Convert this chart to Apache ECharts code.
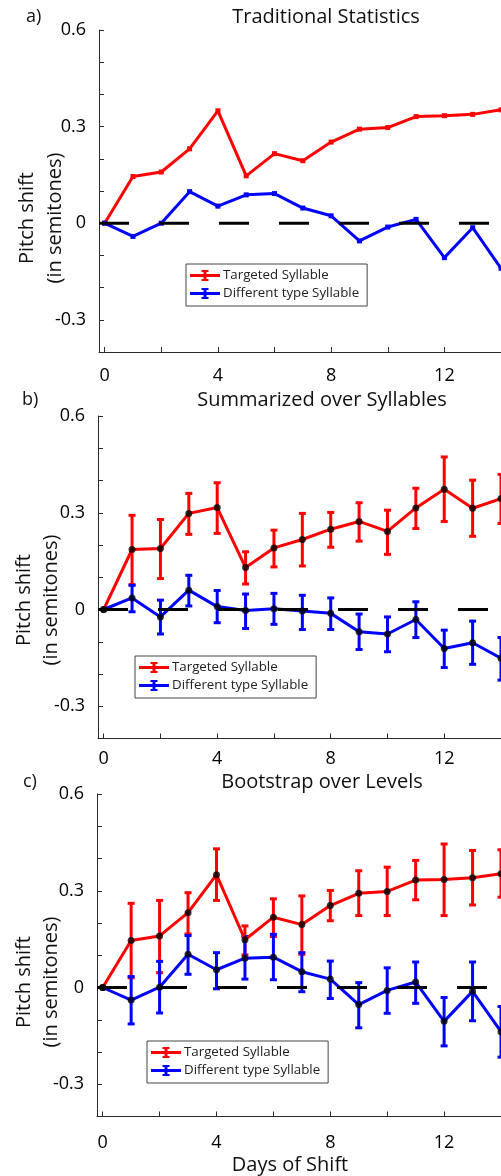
<!DOCTYPE html>
<html>
<head>
<meta charset="utf-8">
<script src="https://cdn.jsdelivr.net/npm/echarts@6/dist/echarts.min.js"></script>
<style>
html,body{margin:0;padding:0;background:#fff;}
#chart{width:501px;height:1176px;}
</style>
</head>
<body>
<div id="chart"></div>
<script>
// ---------------- data ----------------
const days = [0,1,2,3,4,5,6,7,8,9,10,11,12,13,14];
const xTickValues = [0,2,4,6,8,10,12,14];
const xTickLabels = [0,4,8,12];
const yTickValues = [-0.4,-0.3,-0.2,-0.1,0,0.1,0.2,0.3,0.4,0.5,0.6];
const yTickLabels = [-0.3,0,0.3,0.6];
const seriesNames = ['Targeted Syllable','Different type Syllable'];
const panelTitles = ['Traditional Statistics','Summarized over Syllables','Bootstrap over Levels'];
const panelLetters = ['a)','b)','c)'];

// a) Traditional Statistics
const tradTarget = [0,0.145,0.159,0.231,0.349,0.147,0.216,0.194,0.252,0.292,0.297,0.331,0.334,0.338,0.352];
const tradOther  = [0,-0.041,0,0.098,0.053,0.088,0.092,0.047,0.023,-0.055,-0.012,0.012,-0.107,-0.014,-0.140];

// b) Summarized over Syllables
const sumTarget   = [0,0.186,0.189,0.298,0.316,0.130,0.191,0.217,0.249,0.273,0.242,0.315,0.373,0.314,0.344];
const sumTargetHi = [0,0.292,0.279,0.360,0.393,0.179,0.246,0.298,0.301,0.331,0.308,0.376,0.473,0.401,0.419];
const sumTargetLo = [0,0.077,0.096,0.233,0.236,0.079,0.132,0.135,0.193,0.212,0.171,0.251,0.273,0.227,0.267];
const sumOther    = [0,0.036,-0.023,0.060,0.009,-0.003,0.002,-0.005,-0.012,-0.069,-0.076,-0.031,-0.121,-0.103,-0.151];
const sumOtherHi  = [0,0.075,0.029,0.106,0.059,0.048,0.050,0.044,0.036,-0.014,-0.023,0.024,-0.064,-0.036,-0.087];
const sumOtherLo  = [0,-0.007,-0.076,0.011,-0.041,-0.059,-0.046,-0.062,-0.062,-0.124,-0.131,-0.087,-0.180,-0.170,-0.219];

// c) Bootstrap over Levels
const bootTarget   = [0,0.146,0.160,0.232,0.350,0.148,0.218,0.195,0.254,0.292,0.298,0.333,0.335,0.340,0.353];
const bootTargetHi = [0,0.261,0.270,0.294,0.430,0.191,0.275,0.284,0.301,0.362,0.373,0.394,0.445,0.425,0.427];
const bootTargetLo = [0,0.030,0.046,0.166,0.270,0.101,0.158,0.103,0.207,0.223,0.223,0.272,0.223,0.256,0.280];
const bootOther    = [0,-0.039,0.001,0.103,0.055,0.091,0.094,0.049,0.026,-0.053,-0.009,0.017,-0.105,-0.012,-0.137];
const bootOtherHi  = [0,0.034,0.081,0.161,0.108,0.158,0.165,0.108,0.082,0.015,0.061,0.079,-0.031,0.079,-0.059];
const bootOtherLo  = [0,-0.113,-0.079,0.041,-0.004,0.026,0.024,-0.013,-0.034,-0.125,-0.080,-0.049,-0.181,-0.103,-0.216];

const xMin = -0.2, xMax = 14, yMin = -0.4, yMax = 0.6;

// ---------------- layout ----------------
const FONT = 'Open Sans';
const RED = '#ff0000', BLUE = '#0000ff';
const grids = [
  {left: 99, top: 30,  right: 0, height: 322},
  {left: 98, top: 416, right: 0, height: 322.5},
  {left: 97, top: 794, right: 0, height: 322.5}
];
const xLabelMargin = [15, 11.5, 17.5];
const titlePos = [[326,17],[322,400],[322,782]];
const letterPos = [[26,17],[22,400],[23,782]];
const ylab1Pos = [[27.5,218],[24,600],[24,982]];
const ylab2Pos = [[55,218],[51.5,600],[51.5,982]];
const legendPos = [[186,264],[135,656],[147,1041]];

const xAxes = grids.map((g,i)=>({
  type:'value', gridIndex:i, min:xMin, max:xMax,
  axisLine:{show:true,onZero:false,lineStyle:{color:'#2a2a2a',width:1}},
  axisTick:{show:true,inside:true,length:5,lineStyle:{color:'#2a2a2a'},customValues:xTickValues},
  axisLabel:{show:true,customValues:xTickLabels,fontSize:18,color:'#000',fontFamily:FONT,margin:xLabelMargin[i]},
  splitLine:{show:false}
}));
const yAxes = grids.map((g,i)=>({
  type:'value', gridIndex:i, min:yMin, max:yMax,
  axisLine:{show:true,onZero:false,lineStyle:{color:'#2a2a2a',width:1}},
  axisTick:{show:true,inside:true,length:5,lineStyle:{color:'#2a2a2a'},customValues:yTickValues},
  axisLabel:{show:true,customValues:yTickLabels,fontSize:18,color:'#000',fontFamily:FONT,margin:13,
    formatter:v=>String(Math.round(v*10)/10)},
  splitLine:{show:false}
}));

function pairs(ys){ return days.map((d,k)=>[d, ys[k]]); }
function errData(lo,hi){ return days.map((d,k)=>[d, lo[k], hi[k]]).filter(r=>r[1]!==r[2]); }

function errSeries(i, lo, hi, color){
  return {
    type:'custom', xAxisIndex:i, yAxisIndex:i, z:2, silent:true, clip:false,
    data: errData(lo,hi),
    renderItem:(params, api)=>{
      const x = api.value(0);
      const pLo = api.coord([x, api.value(1)]);
      const pHi = api.coord([x, api.value(2)]);
      const w = 3.5, st = {stroke:color, lineWidth:3};
      return {type:'group', children:[
        {type:'line', shape:{x1:pLo[0],y1:pLo[1],x2:pHi[0],y2:pHi[1]}, style:st},
        {type:'line', shape:{x1:pHi[0]-w,y1:pHi[1],x2:pHi[0]+w,y2:pHi[1]}, style:st},
        {type:'line', shape:{x1:pLo[0]-w,y1:pLo[1],x2:pLo[0]+w,y2:pLo[1]}, style:st}
      ]};
    }
  };
}
function lineSeries(i, name, ys, color, withSquares){
  return {
    type:'line', name:name, xAxisIndex:i, yAxisIndex:i, z:3, silent:true, clip:false,
    data: pairs(ys), color: color,
    lineStyle:{color:color,width:3},
    itemStyle:{color:color},
    symbol: withSquares ? 'rect' : 'none', symbolSize:5, showAllSymbol:true,
    animation:false
  };
}
function zeroSeries(i){
  return {
    type:'line', xAxisIndex:i, yAxisIndex:i, z:4, silent:true,
    data:[[xMin,0],[xMax,0]], symbol:'none',
    lineStyle:{color:'#000',width:3,type:[30,30]}, animation:false
  };
}
function dotSeries(i, ys){
  return {
    type:'scatter', xAxisIndex:i, yAxisIndex:i, z:5, silent:true, clip:false,
    data: pairs(ys), symbol:'circle', symbolSize:7,
    itemStyle:{color:'#000'}, animation:false
  };
}

const series = [
  lineSeries(0, seriesNames[0], tradTarget, RED, true),
  lineSeries(0, seriesNames[1], tradOther, BLUE, true),
  zeroSeries(0),

  errSeries(1, sumTargetLo, sumTargetHi, RED),
  errSeries(1, sumOtherLo, sumOtherHi, BLUE),
  lineSeries(1, seriesNames[0], sumTarget, RED, false),
  lineSeries(1, seriesNames[1], sumOther, BLUE, false),
  zeroSeries(1),
  dotSeries(1, sumTarget),
  dotSeries(1, sumOther),

  errSeries(2, bootTargetLo, bootTargetHi, RED),
  errSeries(2, bootOtherLo, bootOtherHi, BLUE),
  lineSeries(2, seriesNames[0], bootTarget, RED, false),
  lineSeries(2, seriesNames[1], bootOther, BLUE, false),
  zeroSeries(2),
  dotSeries(2, bootTarget),
  dotSeries(2, bootOther)
];

const legendIcon = 'path://M0,4H30V7H0Z M13.5,0H16.5V11H13.5Z M11.5,0H18.5V2H11.5Z M11.5,9H18.5V11H11.5Z';
const legends = legendPos.map(p=>({
  data: seriesNames, orient:'vertical', left:p[0], top:p[1],
  icon: legendIcon, itemWidth:30, itemHeight:11, itemGap:5,
  padding:[5,8,6,4], borderColor:'#444', borderWidth:1, backgroundColor:'#fff',
  selectedMode:false,
  itemStyle:{borderWidth:0}, lineStyle:{width:0},
  textStyle:{fontSize:13.3, color:'#222', fontFamily:FONT, padding:[0,0,0,-2]}
}));

const graphics = [];
panelTitles.forEach((t,i)=>{
  graphics.push({type:'text', x:titlePos[i][0], y:titlePos[i][1],
    style:{text:t, fontSize:20, fontFamily:FONT, fill:'#111', textAlign:'center', textVerticalAlign:'middle'}});
  graphics.push({type:'text', x:letterPos[i][0], y:letterPos[i][1],
    style:{text:panelLetters[i], fontSize:18, fontFamily:FONT, fill:'#111', textAlign:'left', textVerticalAlign:'middle'}});
  graphics.push({type:'text', x:ylab1Pos[i][0], y:ylab1Pos[i][1], rotation:Math.PI/2,
    style:{text:'Pitch shift', fontSize:20, fontFamily:FONT, fill:'#111', textAlign:'center', textVerticalAlign:'middle'}});
  graphics.push({type:'text', x:ylab2Pos[i][0], y:ylab2Pos[i][1], rotation:Math.PI/2,
    style:{text:'(in semitones)', fontSize:20, fontFamily:FONT, fill:'#111', textAlign:'center', textVerticalAlign:'middle'}});
});
graphics.push({type:'text', x:290, y:1165,
  style:{text:'Days of Shift', fontSize:20, fontFamily:FONT, fill:'#111', textAlign:'center', textVerticalAlign:'middle'}});

const chart = echarts.init(document.getElementById('chart'), null, {renderer:'canvas'});
chart.setOption({
  animation:false,
  backgroundColor:'#fff',
  grid: grids,
  xAxis: xAxes,
  yAxis: yAxes,
  legend: legends,
  series: series,
  graphic: graphics
});
</script>
</body>
</html>
